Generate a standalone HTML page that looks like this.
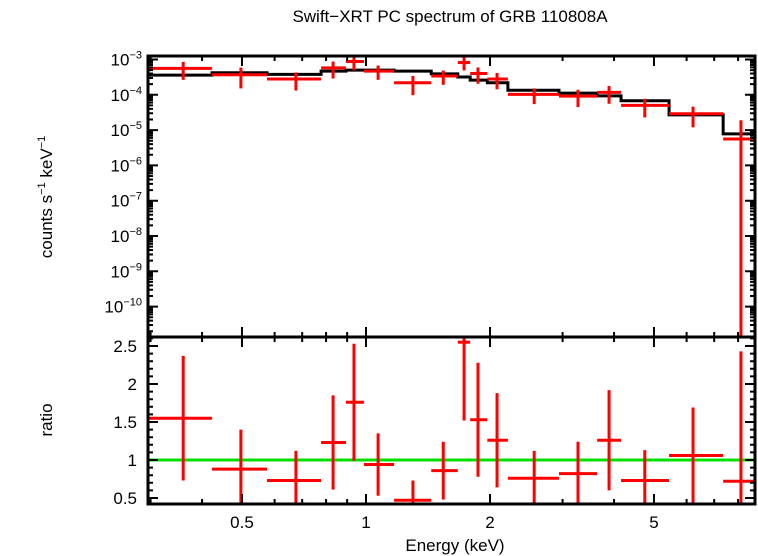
<!DOCTYPE html>
<html><head><meta charset="utf-8"><style>
html,body{margin:0;padding:0;background:#fff;overflow:hidden;width:758px;height:556px;}
svg{display:block;font-family:"Liberation Sans",sans-serif;}
</style></head><body>
<svg id="chart" width="758" height="556" viewBox="0 0 758 556" xmlns="http://www.w3.org/2000/svg">
<text x="450" y="22" font-size="17" text-anchor="middle">Swift−XRT PC spectrum of GRB 110808A</text>
<text x="455" y="551" font-size="17" text-anchor="middle">Energy (keV)</text>
<text transform="translate(52,197) rotate(-90)" font-size="17" text-anchor="middle">counts s<tspan font-size="11" dy="-7">−1</tspan><tspan dy="7"> keV</tspan><tspan font-size="11" dy="-7">−1</tspan></text>
<text transform="translate(52,420) rotate(-90)" font-size="17" text-anchor="middle">ratio</text>
<g id="plot"></g>
</svg>
<script>
const binLo=[0.297,0.423,0.575,0.778,0.894,0.989,1.17,1.44,1.67,1.79,1.97,2.21,2.94,3.64,4.16,5.44,7.36];
const binHi=[0.423,0.575,0.778,0.894,0.989,1.17,1.44,1.67,1.79,1.97,2.21,2.94,3.64,4.16,5.44,7.36,9.04];
const binCenter=[0.360,0.497,0.676,0.832,0.935,1.07,1.30,1.54,1.73,1.87,2.08,2.56,3.27,3.89,4.75,6.22,8.13];
const modelVals=[3.6e-4,4.2e-4,3.8e-4,4.7e-4,5.0e-4,5.0e-4,4.7e-4,3.9e-4,3.2e-4,2.6e-4,2.2e-4,1.35e-4,1.12e-4,9.3e-5,6.8e-5,2.7e-5,7.8e-6];
const dataVals=[5.6e-4,3.7e-4,2.8e-4,5.8e-4,8.8e-4,4.7e-4,2.2e-4,3.4e-4,8.2e-4,4.0e-4,2.8e-4,1.03e-4,9.2e-5,1.17e-4,5.0e-5,2.9e-5,5.6e-6];
const ratioVals=[1.55,0.88,0.73,1.23,1.76,0.94,0.47,0.86,2.55,1.53,1.26,0.76,0.82,1.26,0.73,1.06,0.72];
const ratioErr=[0.82,0.52,0.39,0.62,0.77,0.41,0.26,0.38,1.03,0.75,0.62,0.36,0.42,0.66,0.40,0.63,1.71];
const xTickVals=[0.5,1,2,5];
const xTickLabels=["0.5","1","2","5"];
const yTopExps=[-3,-4,-5,-6,-7,-8,-9,-10];
const yRatioTicks=[0.5,1,1.5,2,2.5];
const yRatioLabels=["0.5","1","1.5","2","2.5"];

const L=148,R=755,T=56,M=337,B=504;
const X=e=>366+412*Math.log10(e);
const YT=v=>59.5-35.3*(Math.log10(v)+3);
const YR=r=>460-76*(r-1);
const g=document.getElementById('plot');
const NS='http://www.w3.org/2000/svg';
function mk(tag,attrs){const el=document.createElementNS(NS,tag);for(const k in attrs)el.setAttribute(k,attrs[k]);g.appendChild(el);return el;}
function clampX(x){return Math.max(L,Math.min(R,x));}
function cl(v,a,b){return Math.max(a,Math.min(b,v));}

let gl=mk('line',{x1:L,x2:R,y1:YR(1),y2:YR(1),stroke:'#00e000','stroke-width':3});



let d='';
for(let i=0;i<binLo.length;i++){const x1=clampX(X(binLo[i])),x2=clampX(X(binHi[i])),y=cl(YT(modelVals[i]),T,M);d+=(i?'L':'M')+x1+','+y+'L'+x2+','+y;}
let mp=mk('path',{d:d,fill:'none',stroke:'#000','stroke-width':3});



for(let i=0;i<binLo.length;i++){
  const x1=clampX(X(binLo[i])),x2=clampX(X(binHi[i])),xc=X(binCenter[i]);
  const err=ratioErr[i]*modelVals[i];
  const y=cl(YT(dataVals[i]),T,M);
  const yhi=cl(YT(dataVals[i]+err),T,M);
  const lo=dataVals[i]-err;
  const ylo=lo>0?cl(YT(lo),T,M):M;
  const gp=mk('g',{stroke:'#f00','stroke-width':3});
  
  
  gp.innerHTML='<line x1="'+x1+'" x2="'+x2+'" y1="'+y+'" y2="'+y+'"/><line x1="'+xc+'" x2="'+xc+'" y1="'+yhi+'" y2="'+ylo+'"/>';
  const yr=cl(YR(ratioVals[i]),M,B);
  const rhi=cl(YR(ratioVals[i]+ratioErr[i]),M,B);
  const rlo=cl(YR(ratioVals[i]-ratioErr[i]),M,B);
  const gr=mk('g',{stroke:'#f00','stroke-width':3});
  
  
  gr.innerHTML='<line x1="'+x1+'" x2="'+x2+'" y1="'+yr+'" y2="'+yr+'"/><line x1="'+xc+'" x2="'+xc+'" y1="'+rhi+'" y2="'+rlo+'"/>';
}

let f1=mk('rect',{x:L,y:T,width:R-L,height:M-T,fill:'none',stroke:'#000','stroke-width':3});


let f2=mk('rect',{x:L,y:M,width:R-L,height:B-M,fill:'none',stroke:'#000','stroke-width':3});



let tk='';
const minorX=[0.3,0.4,0.6,0.7,0.8,0.9,3,4,6,7,8];
for(const e of minorX){const x=X(e);for(const yy of [T,M,B]){tk+='M'+x+','+(yy-(yy==T?0:5))+'v5';tk+='M'+x+','+yy+'v'+(yy==B?-5:5);}}
for(const e of xTickVals){const x=X(e);for(const yy of [T,M,B]){tk+='M'+x+','+(yy==T?yy:yy-10)+'v10';if(yy==M)tk+='M'+x+','+yy+'v10';}}
for(let ex=-11;ex<=-3;ex++){for(let k=1;k<10;k++){const y=YT(k*Math.pow(10,ex));if(y<T||y>M)continue;const len=k==1?10:5;tk+='M'+L+','+y+'h'+len+'M'+R+','+y+'h-'+len;}}
for(let r=0.5;r<=2.61;r+=0.1){const y=YR(r);const maj=Math.abs(r*2-Math.round(r*2))<0.01;const len=maj?10:5;tk+='M'+L+','+y+'h'+len+'M'+R+','+y+'h-'+len;}
let tp=mk('path',{d:tk,stroke:'#000','stroke-width':2,fill:'none'});



for(let i=0;i<xTickVals.length;i++){
  const t=mk('text',{x:X(xTickVals[i]),y:528,'font-size':17,'text-anchor':'middle'});
  
  
  t.textContent=xTickLabels[i];
}
for(let i=0;i<yRatioTicks.length;i++){
  const t=mk('text',{x:137,y:YR(yRatioTicks[i])+6,'font-size':17,'text-anchor':'end'});
  
  
  t.textContent=yRatioLabels[i];
}
for(const ex of yTopExps){
  const t=mk('text',{x:142,y:YT(Math.pow(10,ex))+6,'font-size':17,'text-anchor':'end'});
  
  
  t.innerHTML='10<tspan font-size="11" dy="-7">−'+(-ex)+'</tspan>';
}
</script>
</body></html>
